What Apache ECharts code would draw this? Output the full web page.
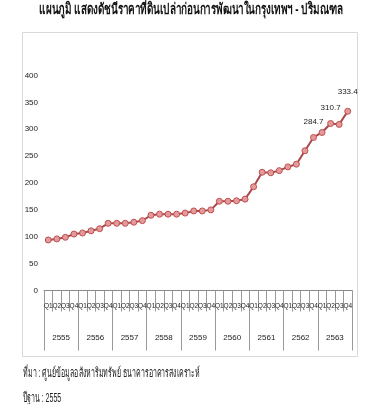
<!DOCTYPE html>
<html><head><meta charset="utf-8">
<script src="https://cdn.jsdelivr.net/npm/echarts@6/dist/echarts.min.js"></script>
<style>html,body{margin:0;padding:0;background:#fff}#c{width:383px;height:404px}</style>
</head><body><div id="c"></div>
<script>
var years = ['2555','2556','2557','2558','2559','2560','2561','2562','2563'];
var quarterNames = ['Q1','Q2','Q3','Q4'];
var values = [94,96,99,105,107,111,115,125,125,125,127,130,140,142,142,142,144,148,148,150,166,166,167,170,193,220,219,223,230,235,260,284.7,294,310.7,309,333.4];
var labelled = [31,33,35];
var yTicks = {min:0, max:400, interval:50};
var titleText = 'แผนภูมิ แสดงดัชนีราคาที่ดินเปล่าก่อนการพัฒนาในกรุงเทพฯ - ปริมณฑล';
var sourceText = 'ที่มา : ศูนย์ข้อมูลอสังหาริมทรัพย์ ธนาคารอาคารสงเคราะห์';
var baseText = 'ปีฐาน : 2555';

var categories = [];
years.forEach(function(y){ quarterNames.forEach(function(q){ categories.push(q); }); });

var font = 'Liberation Sans Narrow, Liberation Sans, sans-serif';
var seriesData = values.map(function(v,i){
  var o = {value:v};
  if (labelled.indexOf(i) >= 0) {
    o.label = {show:true, position:'top', distance: i===35 ? 12 : 8, formatter:function(p){return p.value.toFixed(1);}, fontSize:8, color:'#222', fontFamily:font};
  }
  return o;
});

var chart = echarts.init(document.getElementById('c'), null, {renderer:'canvas'});
chart.setOption({
  animation:false,
  backgroundColor:'#fff',
  graphic:[
    {type:'rect', shape:{x:22.5, y:32.5, width:335, height:324}, style:{fill:'none', stroke:'#d9d9d9', lineWidth:1}, z:-1},
    {type:'text', x:191, y:2, scaleX:0.66, style:{text:titleText, textAlign:'center', textVerticalAlign:'top', font:'bold 15px '+font, fill:'#111'}},
    {type:'text', x:23, y:367, scaleX:0.54, style:{text:sourceText, textAlign:'left', textVerticalAlign:'top', font:'13px '+font, fill:'#222'}},
    {type:'text', x:23, y:392, scaleX:0.54, style:{text:baseText, textAlign:'left', textVerticalAlign:'top', font:'13px '+font, fill:'#222'}}
  ],
  grid:{left:44, right:31, top:75.5, bottom:113.5, containLabel:false},
  xAxis:[
    {type:'category', data:categories, boundaryGap:true, position:'bottom',
     axisLine:{show:true, lineStyle:{color:'#888', width:1}},
     axisTick:{show:true, length:21, interval:0, lineStyle:{color:'#999'}},
     axisLabel:{interval:0, fontSize:6.5, color:'#222', margin:12, fontFamily:font}},
    {type:'category', data:years, boundaryGap:true, position:'bottom', offset:0,
     axisLine:{show:false},
     axisTick:{show:true, length:60, interval:0, lineStyle:{color:'#999'}},
     axisLabel:{interval:0, fontSize:8, color:'#222', margin:43, fontFamily:font}}
  ],
  yAxis:{type:'value', min:yTicks.min, max:yTicks.max, interval:yTicks.interval,
    axisLine:{show:false}, axisTick:{show:false}, splitLine:{show:false},
    axisLabel:{fontSize:8, color:'#222', margin:6, fontFamily:font}},
  series:[{type:'line', xAxisIndex:0, data:seriesData, symbol:'circle', symbolSize:6,
    lineStyle:{color:'#a9474a', width:2},
    itemStyle:{color:'#e39a9c', borderColor:'#c0504d', borderWidth:1}}]
});
</script></body></html>
